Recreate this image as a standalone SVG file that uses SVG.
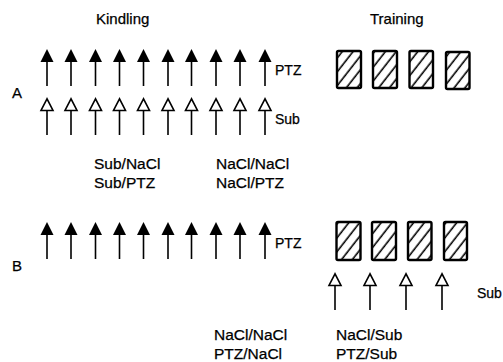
<svg xmlns="http://www.w3.org/2000/svg" xmlns:xlink="http://www.w3.org/1999/xlink" width="503" height="362" viewBox="0 0 503 362">
<style>
text{font-family:"Liberation Sans",Arial,sans-serif;fill:#000;stroke:#000;stroke-width:0.25;}
.t{font-size:15px;}
.lab{font-size:14px;}
.combo{font-size:15.5px;}
.shaft{stroke:#000;stroke-width:1.6;}
.box{fill:url(#hatch);stroke:#000;stroke-width:2.4;}
</style>
<defs>
<pattern id="hatch" patternUnits="userSpaceOnUse" width="8.5" height="8.5" patternTransform="rotate(38)">
<rect width="8.5" height="8.5" fill="#fff"/>
<line x1="4" y1="-1" x2="4" y2="10" stroke="#000" stroke-width="1.6"/>
</pattern>
<g id="blk">
<polygon points="0,0 -6.5,13 6.5,13" fill="#000"/>
<line class="shaft" x1="0" y1="13" x2="0" y2="37"/>
</g>
<g id="opn">
<polygon points="0,0.8 -6,12.5 6,12.5" fill="#fff" stroke="#000" stroke-width="1.6" stroke-linejoin="miter"/>
<line class="shaft" x1="0" y1="12.5" x2="0" y2="37"/>
</g>
</defs>

<g id="titles">
<text class="t" x="96" y="24">Kindling</text>
<text class="t" x="370" y="24">Training</text>
<text class="t" x="12" y="98">A</text>
<text class="t" x="12" y="271">B</text>
</g>

<g id="connectors">
<g id="A-ptz-arrows">
<use xlink:href="#blk" x="47" y="49"/>
<use xlink:href="#blk" x="71" y="49"/>
<use xlink:href="#blk" x="95.5" y="49"/>
<use xlink:href="#blk" x="119.5" y="49"/>
<use xlink:href="#blk" x="143.5" y="49"/>
<use xlink:href="#blk" x="168" y="49"/>
<use xlink:href="#blk" x="191.5" y="49"/>
<use xlink:href="#blk" x="216" y="49"/>
<use xlink:href="#blk" x="240" y="49"/>
<use xlink:href="#blk" x="265" y="49"/>
</g>
<g id="A-sub-arrows">
<use xlink:href="#opn" x="47" y="98"/>
<use xlink:href="#opn" x="71" y="98"/>
<use xlink:href="#opn" x="95.5" y="98"/>
<use xlink:href="#opn" x="119.5" y="98"/>
<use xlink:href="#opn" x="143.5" y="98"/>
<use xlink:href="#opn" x="168" y="98"/>
<use xlink:href="#opn" x="191.5" y="98"/>
<use xlink:href="#opn" x="216" y="98"/>
<use xlink:href="#opn" x="240" y="98"/>
<use xlink:href="#opn" x="265" y="98"/>
</g>
<g id="B-ptz-arrows">
<use xlink:href="#blk" x="47" y="222"/>
<use xlink:href="#blk" x="71" y="222"/>
<use xlink:href="#blk" x="95.5" y="222"/>
<use xlink:href="#blk" x="119.5" y="222"/>
<use xlink:href="#blk" x="143.5" y="222"/>
<use xlink:href="#blk" x="168" y="222"/>
<use xlink:href="#blk" x="191.5" y="222"/>
<use xlink:href="#blk" x="216" y="222"/>
<use xlink:href="#blk" x="240" y="222"/>
<use xlink:href="#blk" x="265" y="222"/>
</g>
<g id="B-sub-arrows">
<use xlink:href="#opn" x="335" y="273"/>
<use xlink:href="#opn" x="370" y="273"/>
<use xlink:href="#opn" x="406" y="273"/>
<use xlink:href="#opn" x="442" y="273"/>
</g>
</g>

<g id="A-boxes">
<rect class="box" x="337" y="51" width="24" height="37" rx="1.5"/>
<rect class="box" x="373" y="51" width="24" height="37" rx="1.5"/>
<rect class="box" x="409.5" y="51" width="23.5" height="37" rx="1.5"/>
<rect class="box" x="446" y="52" width="23.5" height="37" rx="1.5"/>
</g>
<g id="B-boxes">
<rect class="box" x="336.5" y="222" width="24" height="38" rx="1.5"/>
<rect class="box" x="372" y="222" width="24" height="38" rx="1.5"/>
<rect class="box" x="408" y="222" width="23.5" height="38" rx="1.5"/>
<rect class="box" x="444" y="222" width="23" height="38" rx="1.5"/>
</g>

<g id="labels">
<text class="lab" x="275" y="75">PTZ</text>
<text class="lab" x="275" y="124">Sub</text>
<text class="lab" x="275" y="248">PTZ</text>
<text class="lab" x="477" y="298">Sub</text>
</g>

<g id="A-groups">
<text class="combo" x="94" y="169">Sub/NaCl</text>
<text class="combo" x="94" y="188">Sub/PTZ</text>
<text class="combo" x="216" y="169">NaCl/NaCl</text>
<text class="combo" x="216" y="188">NaCl/PTZ</text>
</g>
<g id="B-groups">
<text class="combo" x="214" y="340">NaCl/NaCl</text>
<text class="combo" x="214" y="359">PTZ/NaCl</text>
<text class="combo" x="336" y="340">NaCl/Sub</text>
<text class="combo" x="336" y="359">PTZ/Sub</text>
</g>
</svg>
